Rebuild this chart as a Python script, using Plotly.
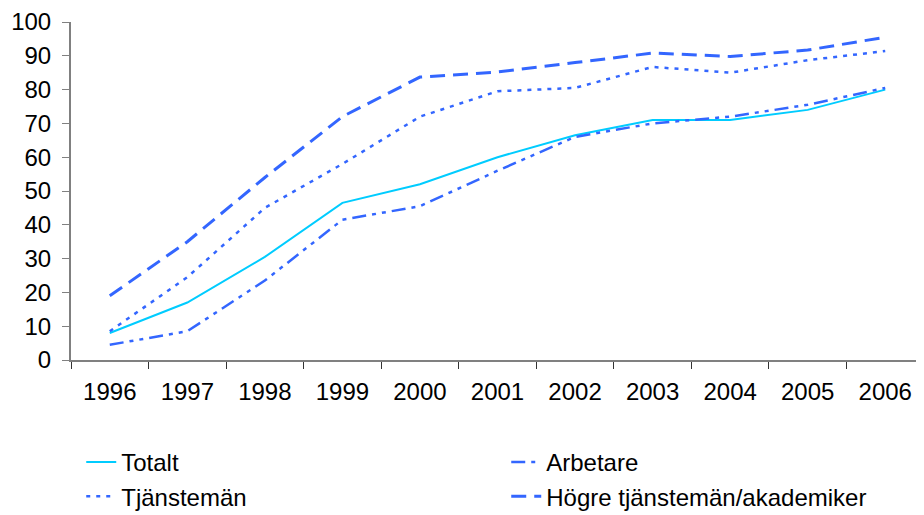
import plotly.graph_objects as go

years = ["1996", "1997", "1998", "1999", "2000", "2001", "2002", "2003", "2004", "2005", "2006"]
totalt = [8, 17, 30.5, 46.5, 52, 60, 66.5, 71, 71, 74, 80]
arbetare = [4.5, 8.5, 23.5, 41.5, 45.5, 56, 66, 70, 72, 75.5, 80.5]
tjansteman = [8.5, 24.5, 45, 58, 72, 79.5, 80.5, 86.7, 85, 88.7, 91.4]
hogre = [19, 35, 54, 72, 83.7, 85.2, 88, 90.8, 89.8, 91.7, 95.5]

FONT = "Liberation Sans, Arial, sans-serif"
FS = 24
cyan = "#00CCFF"
blue = "#3366FF"

fig = go.Figure()
fig.add_trace(go.Scatter(x=years, y=totalt, name="Totalt", mode="lines",
                         line=dict(color=cyan, width=2)))
fig.add_trace(go.Scatter(x=years, y=arbetare, name="Arbetare", mode="lines",
                         line=dict(color=blue, width=2.5, dash="14px,6px,4px,6px,4px,6px")))
fig.add_trace(go.Scatter(x=years, y=tjansteman, name="Tjänstemän", mode="lines",
                         line=dict(color=blue, width=2.5, dash="4px,6px")))
fig.add_trace(go.Scatter(x=years, y=hogre, name="Högre tjänstemän/akademiker", mode="lines",
                         line=dict(color=blue, width=3, dash="15px,8px")))

fig.update_layout(
    width=916, height=507,
    margin=dict(l=63, r=0, t=14, b=155, autoexpand=False),
    paper_bgcolor="white", plot_bgcolor="white",
    font=dict(family=FONT, size=FS, color="black"),
    showlegend=True,
    legend=dict(orientation="h", x=0.012, xanchor="left",
                yref="container", y=0.148, yanchor="top",
                entrywidth=380, entrywidthmode="pixels", tracegroupgap=0,
                font=dict(family=FONT, size=FS, color="black"),
                bgcolor="rgba(0,0,0,0)"),
)
fig.update_xaxes(type="category", tickson="boundaries", ticks="outside", ticklen=7,
                 tickcolor="#333333", showline=True, linecolor="#808080", linewidth=2,
                 showgrid=False, zeroline=False, range=[-0.5, 10.5], automargin=False,
                 ticklabelstandoff=9,
                 tickfont=dict(family=FONT, size=FS, color="black"))
fig.update_yaxes(range=[0, 100], dtick=10, ticks="outside", ticklen=7,
                 tickcolor="#808080", showline=True, linecolor="#808080", linewidth=2,
                 showgrid=False, zeroline=False, automargin=False,
                 ticklabelstandoff=6,
                 tickfont=dict(family=FONT, size=FS, color="black"))

fig.write_html("out.html")
